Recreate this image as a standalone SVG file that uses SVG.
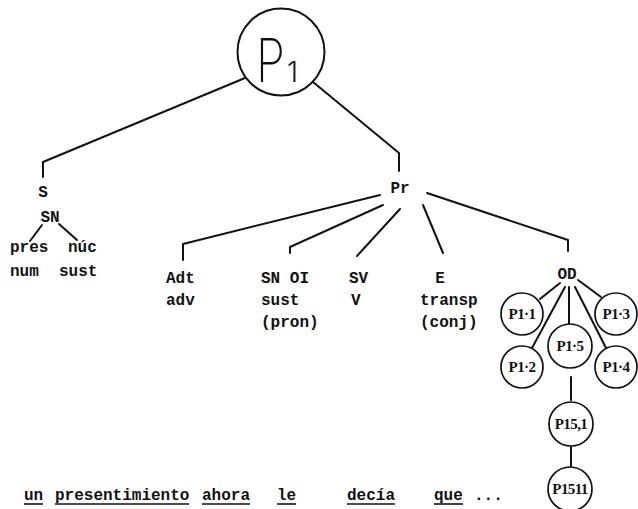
<svg xmlns="http://www.w3.org/2000/svg" width="638" height="509" viewBox="0 0 638 509">
<style>
.t{font-family:"Liberation Mono","DejaVu Sans Mono",monospace;font-weight:bold;font-size:16px;fill:#111}
.c{font-family:"Liberation Serif","DejaVu Serif",serif;font-weight:bold;font-size:15px;fill:#111;letter-spacing:-0.6px}
.ln{stroke:#111;stroke-width:2;fill:none;stroke-linecap:round;stroke-linejoin:round}
.cir{stroke:#111;stroke-width:1.7;fill:#fff}
.u{stroke:#111;stroke-width:1.6}
</style>
<rect width="638" height="509" fill="#fff"/>
<g id="connectors" class="ln">
<polyline points="245,78 43,162 43,177"/>
<polyline points="313,82 399,153 399,171"/>
<line x1="42" y1="225" x2="30" y2="241"/>
<line x1="59" y1="224" x2="77" y2="240"/>
<polyline points="380,195 183,244 183,260"/>
<polyline points="383,205 290,247 290,253"/>
<line x1="400" y1="209" x2="357" y2="256"/>
<line x1="423" y1="205" x2="443" y2="253"/>
<polyline points="427,193 568,240 568,251"/>
<line x1="560" y1="283" x2="540" y2="299"/>
<line x1="578" y1="280" x2="601" y2="297"/>
<line x1="565" y1="287" x2="532" y2="348"/>
<line x1="569" y1="287" x2="569" y2="324"/>
<line x1="575" y1="287" x2="606" y2="348"/>
<line x1="571" y1="377" x2="571" y2="400"/>
<line x1="571" y1="447" x2="571" y2="466"/>
</g>
<g id="P1">
<circle cx="281" cy="52" r="43.5" fill="none" stroke="#111" stroke-width="2"/>
<text transform="translate(256,82) scale(0.78,1)" font-family="Inter,'DejaVu Sans',sans-serif" font-weight="200" font-size="60" fill="#111">P</text>
<text x="287" y="82" font-family="Inter,'DejaVu Sans',sans-serif" font-weight="300" font-size="28" fill="#111">1</text>
</g>
<g id="S"><text class="t" x="43" y="197" text-anchor="middle">S</text></g>
<g id="SN"><text class="t" x="50" y="222" text-anchor="middle">SN</text></g>
<g id="pres"><text class="t" x="10" y="252">pres</text><text class="t" x="10" y="276">num</text></g>
<g id="nuc"><text class="t" x="68" y="252">núc</text><text class="t" x="59" y="276">sust</text></g>
<g id="Pr"><text class="t" x="400" y="193" text-anchor="middle">Pr</text></g>
<g id="Adt"><text class="t" x="166" y="283">Adt</text><text class="t" x="166" y="305">adv</text></g>
<g id="SNOI"><text class="t" x="261" y="283">SN OI</text><text class="t" x="261" y="305">sust</text><text class="t" x="261" y="327">(pron)</text></g>
<g id="SV"><text class="t" x="349" y="283">SV</text><text class="t" x="351" y="305">V</text></g>
<g id="E"><text class="t" x="440" y="283" text-anchor="middle">E</text><text class="t" x="420" y="305">transp</text><text class="t" x="420" y="327">(conj)</text></g>
<g id="OD"><text class="t" x="567" y="279" text-anchor="middle">OD</text></g>
<g id="P1-1"><circle class="cir" cx="522" cy="314" r="21"/><text class="c" x="522" y="319" text-anchor="middle">P1·1</text></g>
<g id="P1-2"><circle class="cir" cx="522" cy="367" r="21"/><text class="c" x="522" y="372" text-anchor="middle">P1·2</text></g>
<g id="P1-3"><circle class="cir" cx="616" cy="314" r="21"/><text class="c" x="616" y="319" text-anchor="middle">P1·3</text></g>
<g id="P1-4"><circle class="cir" cx="616" cy="367" r="21"/><text class="c" x="616" y="372" text-anchor="middle">P1·4</text></g>
<g id="P1-5"><circle class="cir" cx="570" cy="346" r="22"/><text class="c" x="570" y="351" text-anchor="middle">P1·5</text></g>
<g id="P1-5-1"><circle class="cir" cx="571" cy="424" r="22"/><text class="c" x="571" y="429" text-anchor="middle" letter-spacing="-1">P15,1</text></g>
<g id="P1-5-1-1"><circle class="cir" cx="570" cy="489" r="22"/><text class="c" x="570" y="494" text-anchor="middle" letter-spacing="-1.6">P1511</text></g>
<g id="sentence">
<text class="t" x="24" y="500">un</text>
<text class="t" x="55" y="500">presentimiento</text>
<text class="t" x="202" y="500">ahora</text>
<text class="t" x="277" y="500">le</text>
<text class="t" x="347" y="500">decía</text>
<text class="t" x="434" y="500">que</text>
<text class="t" x="474" y="500">...</text>
<line class="u" x1="24" y1="504" x2="43" y2="504"/>
<line class="u" x1="55" y1="504" x2="189" y2="504"/>
<line class="u" x1="202" y1="504" x2="250" y2="504"/>
<line class="u" x1="277" y1="504" x2="296" y2="504"/>
<line class="u" x1="347" y1="504" x2="395" y2="504"/>
<line class="u" x1="434" y1="504" x2="463" y2="504"/>
</g>
</svg>
